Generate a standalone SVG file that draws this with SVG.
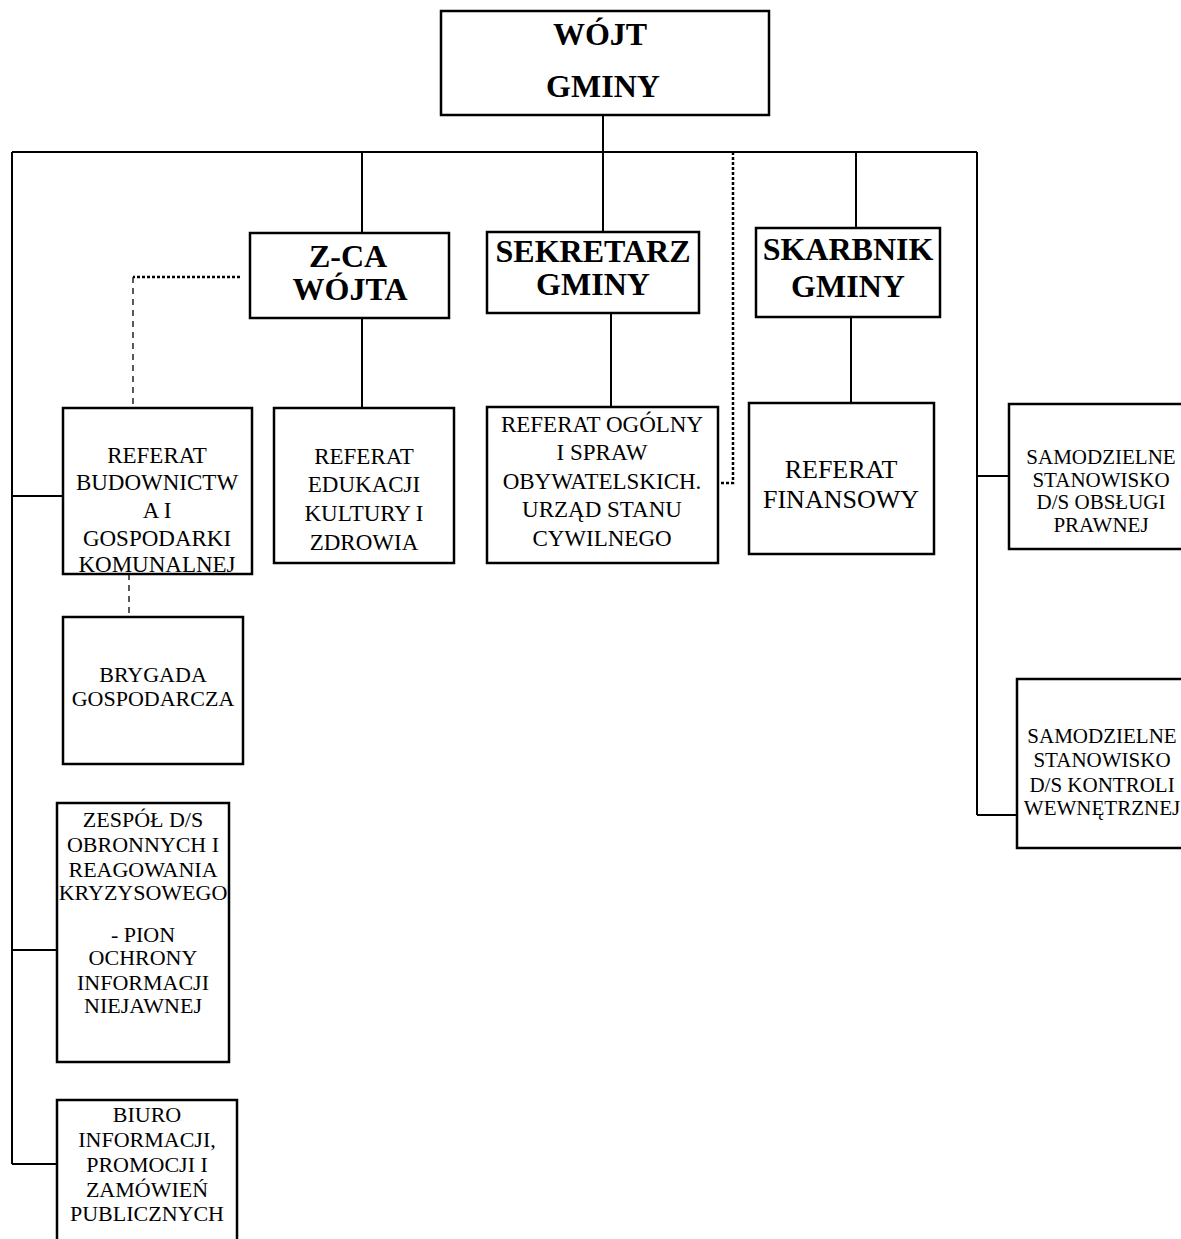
<svg xmlns="http://www.w3.org/2000/svg" width="1181" height="1239" viewBox="0 0 1181 1239">
<style>
.box{fill:#fff;stroke:#000;stroke-width:2.5}
.ln{stroke:#000;stroke-width:2;fill:none}
.dot{stroke:#000;stroke-width:2.5;fill:none;stroke-dasharray:3 2}
.dash{stroke:#000;stroke-width:1.3;fill:none;stroke-dasharray:6 5}
text{text-anchor:middle;fill:#000;font-family:"Liberation Serif","Times New Roman",serif}
.h{font-weight:bold;font-size:32px}
.t{font-size:23px}
.f{font-size:26px}
.s{font-size:22px}
.r{font-size:21px}
</style>
<rect width="1181" height="1239" fill="#fff"/>
<g id="connectors">
<line class="ln" x1="603" y1="115" x2="603" y2="233"/>
<line class="ln" x1="12" y1="152" x2="977" y2="152"/>
<line class="ln" x1="12" y1="152" x2="12" y2="1164"/>
<line class="ln" x1="977" y1="152" x2="977" y2="815"/>
<line class="ln" x1="362" y1="152" x2="362" y2="233"/>
<line class="ln" x1="856" y1="152" x2="856" y2="228"/>
<line class="ln" x1="362" y1="318" x2="362" y2="408"/>
<line class="ln" x1="611" y1="313" x2="611" y2="407"/>
<line class="ln" x1="851" y1="317" x2="851" y2="403"/>
<line class="ln" x1="12" y1="496" x2="63" y2="496"/>
<line class="ln" x1="12" y1="950" x2="57" y2="950"/>
<line class="ln" x1="12" y1="1164" x2="57" y2="1164"/>
<line class="ln" x1="977" y1="476" x2="1009" y2="476"/>
<line class="ln" x1="977" y1="815" x2="1017" y2="815"/>
<line class="dot" x1="240" y1="277" x2="133" y2="277"/>
<line class="dash" x1="133" y1="277" x2="133" y2="408"/>
<line class="dash" x1="129" y1="574" x2="129" y2="617"/>
<polyline class="dot" points="733,152 733,483 718,483"/>
</g>
<g id="wojt">
<rect class="box" x="441" y="11" width="328" height="104"/>
<text class="h" x="600" y="45">WÓJT</text>
<text class="h" x="603" y="97">GMINY</text>
</g>
<g id="zca">
<rect class="box" x="250" y="233" width="199" height="85"/>
<text class="h" x="348" y="267">Z-CA</text>
<text class="h" x="350" y="300">WÓJTA</text>
</g>
<g id="sekretarz">
<rect class="box" x="487" y="232" width="212" height="81"/>
<text class="h" x="593" y="262">SEKRETARZ</text>
<text class="h" x="593" y="295">GMINY</text>
</g>
<g id="skarbnik">
<rect class="box" x="756" y="228" width="184" height="89"/>
<text class="h" x="848" y="260">SKARBNIK</text>
<text class="h" x="848" y="297">GMINY</text>
</g>
<g id="budownictwa">
<rect class="box" x="63" y="408" width="189" height="166"/>
<text class="t" x="157" y="463">REFERAT</text>
<text class="t" x="157" y="490">BUDOWNICTW</text>
<text class="t" x="157" y="518">A I</text>
<text class="t" x="157" y="546">GOSPODARKI</text>
<text class="t" x="157" y="572">KOMUNALNEJ</text>
</g>
<g id="edukacji">
<rect class="box" x="274" y="408" width="180" height="155"/>
<text class="t" x="364" y="464">REFERAT</text>
<text class="t" x="364" y="492">EDUKACJI</text>
<text class="t" x="364" y="521">KULTURY I</text>
<text class="t" x="364" y="550">ZDROWIA</text>
</g>
<g id="ogolny">
<rect class="box" x="487" y="407" width="231" height="156"/>
<text class="t" x="602" y="432">REFERAT OGÓLNY</text>
<text class="t" x="602" y="460">I SPRAW</text>
<text class="t" x="602" y="489">OBYWATELSKICH.</text>
<text class="t" x="602" y="517">URZĄD STANU</text>
<text class="t" x="602" y="546">CYWILNEGO</text>
</g>
<g id="finansowy">
<rect class="box" x="749" y="403" width="185" height="151"/>
<text class="f" x="841" y="478">REFERAT</text>
<text class="f" x="841" y="508">FINANSOWY</text>
</g>
<g id="brygada">
<rect class="box" x="63" y="617" width="180" height="147"/>
<text class="s" x="153" y="682">BRYGADA</text>
<text class="s" x="153" y="706">GOSPODARCZA</text>
</g>
<g id="obslugi">
<rect class="box" x="1009" y="404" width="190" height="145"/>
<text class="r" x="1101" y="464">SAMODZIELNE</text>
<text class="r" x="1101" y="486.5">STANOWISKO</text>
<text class="r" x="1101" y="509">D/S OBSŁUGI</text>
<text class="r" x="1101" y="531.5">PRAWNEJ</text>
</g>
<g id="kontroli">
<rect class="box" x="1017" y="679" width="190" height="169"/>
<text class="r" x="1102" y="743">SAMODZIELNE</text>
<text class="r" x="1102" y="767">STANOWISKO</text>
<text class="r" x="1102" y="792">D/S KONTROLI</text>
<text class="r" x="1102" y="815">WEWNĘTRZNEJ</text>
</g>
<g id="zespol">
<rect class="box" x="57" y="803" width="172" height="259"/>
<text class="s" x="143" y="827">ZESPÓŁ D/S</text>
<text class="s" x="143" y="852">OBRONNYCH I</text>
<text class="s" x="143" y="877">REAGOWANIA</text>
<text class="s" x="143" y="900">KRYZYSOWEGO</text>
<text class="s" x="143" y="942">- PION</text>
<text class="s" x="143" y="965">OCHRONY</text>
<text class="s" x="143" y="990">INFORMACJI</text>
<text class="s" x="143" y="1013">NIEJAWNEJ</text>
</g>
<g id="biuro">
<rect class="box" x="57" y="1100" width="180" height="150"/>
<text class="s" x="147" y="1122">BIURO</text>
<text class="s" x="147" y="1147">INFORMACJI,</text>
<text class="s" x="147" y="1172">PROMOCJI I</text>
<text class="s" x="147" y="1197">ZAMÓWIEŃ</text>
<text class="s" x="147" y="1221">PUBLICZNYCH</text>
</g>
</svg>
